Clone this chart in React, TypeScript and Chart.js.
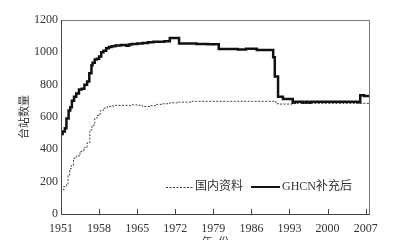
import React, { useEffect, useRef } from "react";
import { Chart, registerables } from "chart.js";

Chart.register(...registerables);

const xTickYears = [1951, 1958, 1965, 1972, 1979, 1986, 1993, 2000, 2007];
const yTickValues = [0, 200, 400, 600, 800, 1000, 1200];

const ghcnYears = [
  1951.0, 1951.3, 1951.7, 1952.0, 1952.4, 1952.7, 1953.0, 1953.4, 1953.8, 1954.3,
  1954.8, 1955.3, 1955.8, 1956.2, 1956.6, 1956.8, 1957.2, 1957.6, 1958.0, 1958.4,
  1958.8, 1959.3, 1959.8, 1960.3, 1961.0, 1962.0, 1963.0, 1963.5, 1964.0, 1965.0,
  1966.0, 1967.0, 1968.0, 1969.0, 1970.0, 1971.0, 1972.7, 1975.9, 1978.0, 1980.0,
  1983.5, 1985.0, 1987.0, 1990.0, 1990.3, 1990.9, 1991.8, 1993.6, 1994.0, 1995.5,
  1996.0, 1996.5, 1997.0, 2005.5, 2006.0, 2006.7, 2007.4, 2007.8,
];
const ghcnValues = [
  480, 495, 510, 530, 590, 640, 660, 700, 725, 745,
  770, 775, 800, 820, 870, 920, 935, 955, 960, 975,
  1000, 1010, 1025, 1033, 1038, 1042, 1045, 1040, 1048, 1052,
  1055, 1058, 1062, 1065, 1066, 1068, 1088, 1055, 1052, 1050,
  1020, 1017, 1022, 1015, 970, 850, 725, 712, 688, 695,
  688, 695, 688, 695, 692, 735, 730, 730,
];

const domYears = [
  1951.0, 1951.5, 1952.0, 1952.3, 1952.6, 1952.9, 1953.3, 1953.8, 1954.5, 1955.2,
  1955.8, 1956.3, 1956.7, 1957.2, 1957.6, 1958.2, 1958.8, 1959.5, 1960.3, 1961.0,
  1964.0, 1965.0, 1966.0, 1967.5, 1968.5, 1969.5, 1971.0, 1972.5, 1975.0, 1978.0,
  1985.0, 1990.5, 1991.2, 1993.5, 1994.0, 2007.8,
];
const domValues = [
  140, 150, 170, 182, 240, 280, 300, 345, 360, 388,
  410, 440, 520, 550, 590, 610, 640, 655, 665, 668,
  672, 675, 672, 665, 670, 678, 682, 688, 692, 697,
  697, 697, 682, 680, 684, 684,
];

const serif = "'Liberation Serif', 'Noto Sans CJK SC', serif";

const framePlugin = {
  id: "frameAndLegend",
  afterDraw(chart: any) {
    const { ctx, chartArea, scales } = chart;
    const { left, top, right, bottom } = chartArea;
    const x = scales.x;
    ctx.save();
    ctx.strokeStyle = "#777";
    ctx.lineWidth = 1;
    ctx.strokeRect(left + 0.5, top + 0.5, right - left - 1, bottom - top);
    ctx.strokeStyle = "#444";
    ctx.beginPath();
    ctx.moveTo(left + 0.5, top);
    ctx.lineTo(left + 0.5, bottom + 0.5);
    ctx.lineTo(right, bottom + 0.5);
    ctx.stroke();
    x.ticks.forEach((t: any) => {
      const px = Math.round(x.getPixelForValue(t.value)) + 0.5;
      ctx.beginPath();
      ctx.moveTo(px, bottom);
      ctx.lineTo(px, bottom - 5);
      ctx.stroke();
    });
    // legend
    const ly = 187;
    ctx.strokeStyle = "#333";
    ctx.lineWidth = 1;
    ctx.setLineDash([2, 1.5]);
    ctx.beginPath();
    ctx.moveTo(166, ly + 0.5);
    ctx.lineTo(193, ly + 0.5);
    ctx.stroke();
    ctx.setLineDash([]);
    ctx.strokeStyle = "#111";
    ctx.lineWidth = 2;
    ctx.beginPath();
    ctx.moveTo(251, ly);
    ctx.lineTo(280, ly);
    ctx.stroke();
    ctx.fillStyle = "#333";
    ctx.font = "12px " + serif;
    ctx.textBaseline = "middle";
    ctx.textAlign = "left";
    ctx.fillText("国内资料", 195, ly);
    ctx.fillText("GHCN补充后", 282, ly);
    ctx.restore();
  },
};

export default function App() {
  const ref = useRef<HTMLCanvasElement | null>(null);
  useEffect(() => {
    if (!ref.current) return;
    const chart = new Chart(ref.current, {
      type: "line",
      data: {
        datasets: [
          {
            label: "国内资料",
            data: domYears.map((yr, i) => ({ x: yr, y: domValues[i] })),
            borderColor: "#444",
            borderWidth: 1,
            borderDash: [2, 1.5],
            pointRadius: 0,
            stepped: "after",
            fill: false,
          },
          {
            label: "GHCN补充后",
            data: ghcnYears.map((yr, i) => ({ x: yr, y: ghcnValues[i] })),
            borderColor: "#111",
            borderWidth: 2.5,
            pointRadius: 0,
            stepped: "after",
            fill: false,
          },
        ],
      },
      options: {
        animation: false,
        responsive: true,
        maintainAspectRatio: false,
        layout: { padding: { left: 0, right: 30, top: 20, bottom: 0 } },
        plugins: { legend: { display: false }, tooltip: { enabled: false } },
        scales: {
          x: {
            type: "linear",
            min: 1951,
            max: 2007.8,
            afterFit: (s: any) => {
              s.height = 38;
            },
            afterBuildTicks: (s: any) => {
              s.ticks = xTickYears.map((v) => ({ value: v }));
            },
            grid: { display: false, drawTicks: false },
            border: { display: false },
            ticks: {
              padding: 8,
              maxRotation: 0,
              autoSkip: false,
              color: "#333",
              font: { family: serif, size: 12 },
              callback: (v: any) => String(v),
            },
            title: {
              display: true,
              text: "年  份",
              color: "#333",
              font: { family: serif, size: 11 },
              padding: { top: 0, bottom: 2 },
            },
          },
          y: {
            min: 0,
            max: 1200,
            afterFit: (s: any) => {
              s.width = 61;
            },
            afterBuildTicks: (s: any) => {
              s.ticks = yTickValues.map((v) => ({ value: v }));
            },
            grid: { display: false, drawTicks: false },
            border: { display: false },
            ticks: {
              padding: 3,
              color: "#333",
              font: { family: serif, size: 12 },
              callback: (v: any) => String(v),
            },
            title: {
              display: true,
              text: "台站数量",
              color: "#333",
              font: { family: serif, size: 11 },
              padding: { top: 19, bottom: 0 },
            },
          },
        },
      },
      plugins: [framePlugin],
    });
    return () => chart.destroy();
  }, []);
  return (
    <div
      style={{
        position: "fixed",
        left: 0,
        top: 0,
        width: 400,
        height: 240,
        overflow: "hidden",
        background: "#fff",
      }}
    >
      <div style={{ position: "relative", width: 400, height: 252 }}>
        <canvas ref={ref} />
      </div>
    </div>
  );
}
